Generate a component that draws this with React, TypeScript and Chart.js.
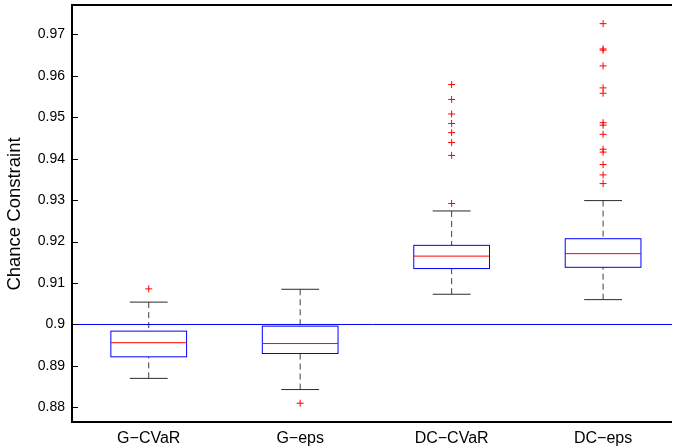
import React, { useEffect, useRef } from 'react';
import { Chart, registerables } from 'chart.js';

Chart.register(...registerables);

const categories = ['G−CVaR', 'G−eps', 'DC−CVaR', 'DC−eps'];
const lowerWhisker = [0.887, 0.8843, 0.9073, 0.906];
const q1Values = [0.8922, 0.893, 0.9135, 0.9138];
const medianValues = [0.8956, 0.8954, 0.9165, 0.9171];
const q3Values = [0.8984, 0.8996, 0.9191, 0.9207];
const upperWhisker = [0.9054, 0.9085, 0.9274, 0.9299];
const outliersGCVaR = [0.9086];
const outliersGEps = [0.881];
const outliersDCCVaR = [0.9579, 0.9543, 0.9508, 0.9485, 0.9463, 0.9439, 0.9408, 0.9292];
const outliersDCEps = [0.9726, 0.9665, 0.9662, 0.9624, 0.9571, 0.9558, 0.9487, 0.9481, 0.9459, 0.9423, 0.9416, 0.9386, 0.9361, 0.934];
const outlierLists = [outliersGCVaR, outliersGEps, outliersDCCVaR, outliersDCEps];
const yTicks = [0.88, 0.89, 0.9, 0.91, 0.92, 0.93, 0.94, 0.95, 0.96, 0.97];
const thresholdValue = 0.9;
const yMin = 0.87623;
const yMax = 0.9771;
const xMin = 0.5;
const xMax = 4.455;

const FONT = '"Liberation Sans", Arial, Helvetica, sans-serif';

const boxPlugin = {
  id: 'boxesAndFrame',
  beforeDatasetsDraw(chart: any) {
    const { ctx } = chart;
    const xs = chart.scales.x;
    const ys = chart.scales.y;
    const line = (x1: number, y1: number, x2: number, y2: number) => {
      ctx.beginPath();
      ctx.moveTo(x1, y1);
      ctx.lineTo(x2, y2);
      ctx.stroke();
    };
    ctx.save();
    categories.forEach((_, i) => {
      const c = i + 1;
      const xc = xs.getPixelForValue(c);
      const xl = xs.getPixelForValue(c - 0.25);
      const xr = xs.getPixelForValue(c + 0.25);
      const cl = xs.getPixelForValue(c - 0.125);
      const cr = xs.getPixelForValue(c + 0.125);
      const yLo = ys.getPixelForValue(lowerWhisker[i]);
      const yQ1 = ys.getPixelForValue(q1Values[i]);
      const yMed = ys.getPixelForValue(medianValues[i]);
      const yQ3 = ys.getPixelForValue(q3Values[i]);
      const yHi = ys.getPixelForValue(upperWhisker[i]);

      ctx.lineWidth = 1;
      ctx.strokeStyle = '#404040';
      ctx.setLineDash([6, 4]);
      line(xc, yHi, xc, yQ3);
      line(xc, yLo, xc, yQ1);
      ctx.setLineDash([]);
      ctx.strokeStyle = '#2a2a2a';
      line(cl, yHi, cr, yHi);
      line(cl, yLo, cr, yLo);

      ctx.strokeStyle = '#0000ff';
      ctx.strokeRect(xl, yQ3, xr - xl, yQ1 - yQ3);

      ctx.strokeStyle = '#ff0000';
      line(xl, yMed, xr, yMed);
    });
    ctx.restore();
  },
  afterDraw(chart: any) {
    const { ctx, chartArea } = chart;
    const ys = chart.scales.y;
    const { left, right, top, bottom } = chartArea;
    ctx.save();
    ctx.strokeStyle = '#000';
    ctx.lineWidth = 1;
    yTicks.forEach((v) => {
      const py = Math.round(ys.getPixelForValue(v)) + 0.5;
      ctx.beginPath();
      ctx.moveTo(left, py);
      ctx.lineTo(left + 5, py);
      ctx.stroke();
    });
    ctx.lineWidth = 2;
    ctx.beginPath();
    ctx.moveTo(left - 1, top);
    ctx.lineTo(right, top);
    ctx.stroke();
    ctx.beginPath();
    ctx.moveTo(left - 1, top - 1);
    ctx.lineTo(left - 1, bottom);
    ctx.stroke();
    ctx.beginPath();
    ctx.moveTo(left - 2, bottom - 1);
    ctx.lineTo(right, bottom - 1);
    ctx.stroke();
    ctx.restore();
  },
};

export default function App() {
  const canvasRef = useRef<HTMLCanvasElement | null>(null);

  useEffect(() => {
    const canvas = canvasRef.current;
    if (!canvas) return;
    const outlierPoints: { x: number; y: number }[] = [];
    outlierLists.forEach((list, i) => {
      list.forEach((v) => outlierPoints.push({ x: i + 1, y: v }));
    });

    const chart = new Chart(canvas, {
      type: 'scatter',
      data: {
        datasets: [
          {
            label: 'threshold',
            data: [
              { x: xMin, y: thresholdValue },
              { x: xMax, y: thresholdValue },
            ],
            showLine: true,
            borderColor: '#0000ff',
            borderWidth: 1,
            pointRadius: 0,
            fill: false,
          } as any,
          {
            label: 'outliers',
            data: outlierPoints,
            pointStyle: 'cross',
            pointRadius: 3.5,
            borderColor: '#ff0000',
            backgroundColor: '#ff0000',
            borderWidth: 1,
          } as any,
        ],
      },
      options: {
        responsive: false,
        animation: false,
        layout: { padding: { top: 5, left: 0, right: 0, bottom: 0 } },
        plugins: {
          legend: { display: false },
          tooltip: { enabled: false },
        },
        scales: {
          x: {
            type: 'linear',
            min: xMin,
            max: xMax,
            grid: { display: false, drawTicks: false },
            border: { display: false },
            afterBuildTicks: (s: any) => {
              s.ticks = categories.map((_, i) => ({ value: i + 1 }));
            },
            afterFit: (s: any) => {
              s.height = 25;
              s.paddingLeft = 0;
              s.paddingRight = 0;
            },
            ticks: {
              callback: (v: any) => categories[Math.round(Number(v)) - 1] ?? '',
              font: { family: FONT, size: 16 },
              color: '#000',
              padding: 6,
              maxRotation: 0,
              autoSkip: false,
            },
          },
          y: {
            type: 'linear',
            min: yMin,
            max: yMax,
            grid: { display: false, drawTicks: false },
            border: { display: false },
            afterBuildTicks: (s: any) => {
              s.ticks = yTicks.map((v) => ({ value: v }));
            },
            afterFit: (s: any) => {
              s.width = 73;
              s.paddingTop = 0;
              s.paddingBottom = 0;
            },
            ticks: {
              callback: (v: any) => String(Number(Number(v).toFixed(2))),
              font: { family: FONT, size: 14 },
              color: '#000',
              padding: 8,
              autoSkip: false,
            },
            title: {
              display: true,
              text: 'Chance Constraint',
              font: { family: FONT, size: 18.5 },
              color: '#000',
              padding: { top: 3.5, bottom: 0 },
            },
          },
        },
      },
      plugins: [boxPlugin],
    });

    return () => {
      chart.destroy();
    };
  }, []);

  return (
    <div style={{ position: 'absolute', left: 0, top: 0, width: 677, height: 448, background: '#fff' }}>
      <canvas ref={canvasRef} width={677} height={448} style={{ display: 'block' }} />
    </div>
  );
}
